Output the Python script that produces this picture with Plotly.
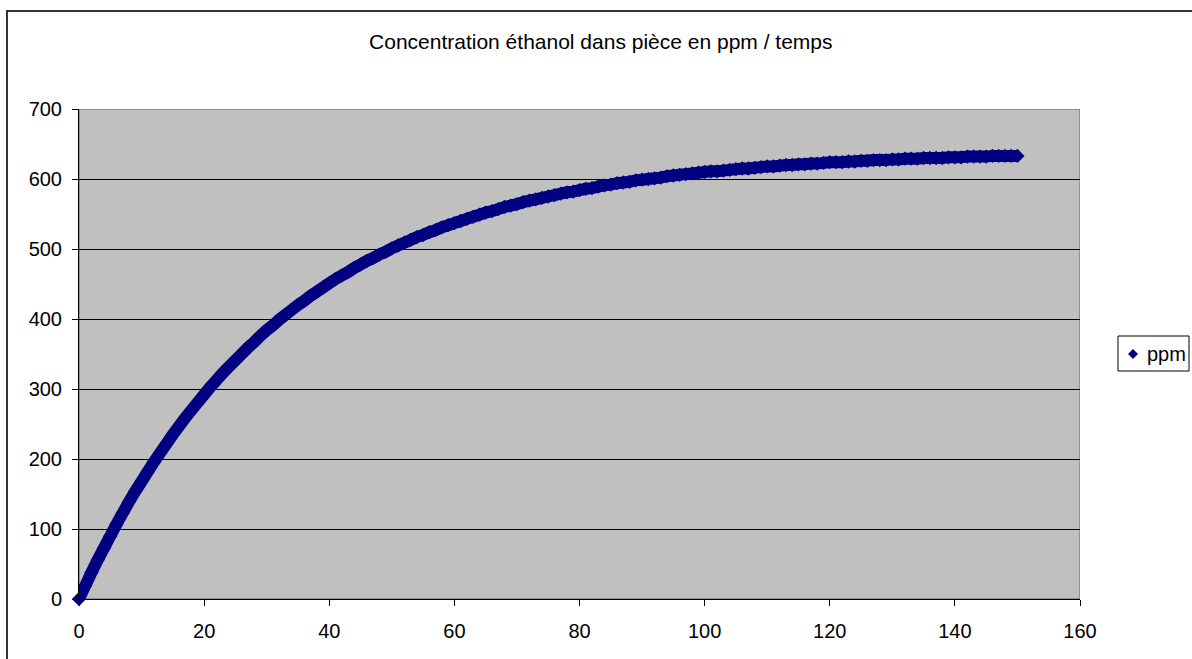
import plotly.graph_objects as go

# Time (minutes) and ethanol concentration in the room (ppm)
temps = list(range(0, 151))
ppm = [
    0, 19, 38, 56, 73, 90, 107, 123, 139, 154,
    168, 182, 196, 209, 222, 235, 247, 259, 270, 281,
    292, 303, 313, 323, 332, 341, 350, 359, 367, 376,
    384, 391, 399, 406, 413, 420, 426, 433, 439, 445,
    451, 457, 462, 467, 473, 478, 483, 487, 492, 496,
    501, 505, 509, 513, 517, 520, 524, 527, 531, 534,
    537, 540, 543, 546, 549, 552, 554, 557, 560, 562,
    564, 567, 569, 571, 573, 575, 577, 579, 581, 582,
    584, 586, 587, 589, 591, 592, 594, 595, 596, 598,
    599, 600, 601, 602, 604, 605, 606, 607, 608, 609,
    610, 611, 611, 612, 613, 614, 615, 615, 616, 617,
    618, 618, 619, 620, 620, 621, 621, 622, 622, 623,
    624, 624, 624, 625, 625, 626, 626, 627, 627, 627,
    628, 628, 629, 629, 629, 630, 630, 630, 630, 631,
    631, 631, 632, 632, 632, 632, 633, 633, 633, 633, 633,
]

title_text = "Concentration éthanol dans pièce en ppm / temps"
series_name = "ppm"
x_ticks = [0, 20, 40, 60, 80, 100, 120, 140, 160]
y_ticks = [0, 100, 200, 300, 400, 500, 600, 700]

NAVY = "#000080"
FONT = "Liberation Sans, Arial, sans-serif"

fig = go.Figure()

# continuous band joining the dense markers
fig.add_trace(go.Scatter(
    x=temps, y=ppm, mode="lines",
    line=dict(color=NAVY, width=12, simplify=False),
    showlegend=False, hoverinfo="skip", cliponaxis=False,
))
fig.add_trace(go.Scatter(
    x=temps, y=ppm, mode="markers", name=series_name,
    marker=dict(symbol="diamond", size=11, color=NAVY, line=dict(width=0)),
    cliponaxis=False, showlegend=False,
))

L, R, T, B = 79, 112, 109, 60
W, H = 1192, 659
pw, ph = W - L - R, H - T - B


def px_x(px):
    return (px - L) / pw


def px_y(py):
    return (H - B - py) / ph


# compact legend box on the right: frame, diamond key and label
legend_shapes = [
    dict(type="rect", xref="paper", yref="paper",
         x0=px_x(1118), x1=px_x(1189), y0=px_y(371), y1=px_y(336),
         line=dict(color="black", width=1), fillcolor="white"),
    dict(type="path", xref="paper", yref="paper",
         xsizemode="pixel", ysizemode="pixel",
         xanchor=px_x(1133), yanchor=px_y(354),
         path="M 0,5 L 5,0 L 0,-5 L -5,0 Z",
         line=dict(width=0), fillcolor=NAVY),
]
legend_label = dict(
    text=series_name, xref="paper", yref="paper",
    x=px_x(1145), y=px_y(354), xanchor="left", yanchor="middle",
    showarrow=False, font=dict(family=FONT, size=20, color="black"),
)

fig.update_layout(
    width=W, height=H,
    margin=dict(l=L, r=R, t=T, b=B, pad=0, autoexpand=False),
    paper_bgcolor="white",
    plot_bgcolor="#C0C0C0",
    font=dict(family=FONT, size=20, color="black"),
    showlegend=False,
    title=dict(
        text=title_text, x=0.504, xref="container", xanchor="center",
        y=1 - 42 / H, yref="container", yanchor="middle",
        font=dict(family=FONT, size=21, color="black"),
    ),
    xaxis=dict(
        range=[0, 160], tickvals=x_ticks, ticktext=[str(v) for v in x_ticks],
        showgrid=False, zeroline=False,
        showline=True, linecolor="black", linewidth=1,
        ticks="outside", ticklen=6, tickcolor="black", tickwidth=1,
        tickfont=dict(family=FONT, size=20, color="black"),
        ticklabelstandoff=8,
    ),
    yaxis=dict(
        range=[0, 700], tickvals=y_ticks, ticktext=[str(v) for v in y_ticks],
        showgrid=True, gridcolor="black", gridwidth=1, zeroline=False,
        showline=True, linecolor="black", linewidth=1,
        ticks="outside", ticklen=6, tickcolor="black", tickwidth=1,
        tickfont=dict(family=FONT, size=20, color="black"),
        ticklabelstandoff=6,
    ),
    annotations=[legend_label],
    shapes=[
        # grey frame on the plot area's top and right sides
        dict(type="rect", xref="x", yref="y", x0=0, x1=160, y0=0, y1=700,
             line=dict(color="#808080", width=1.5), layer="below"),
        # outer chart border
        dict(type="rect", xref="paper", yref="paper",
             x0=px_x(7), x1=px_x(1215), y0=px_y(690), y1=px_y(11),
             line=dict(color="#333333", width=2)),
    ] + legend_shapes,
)

fig.write_html("out.html")
